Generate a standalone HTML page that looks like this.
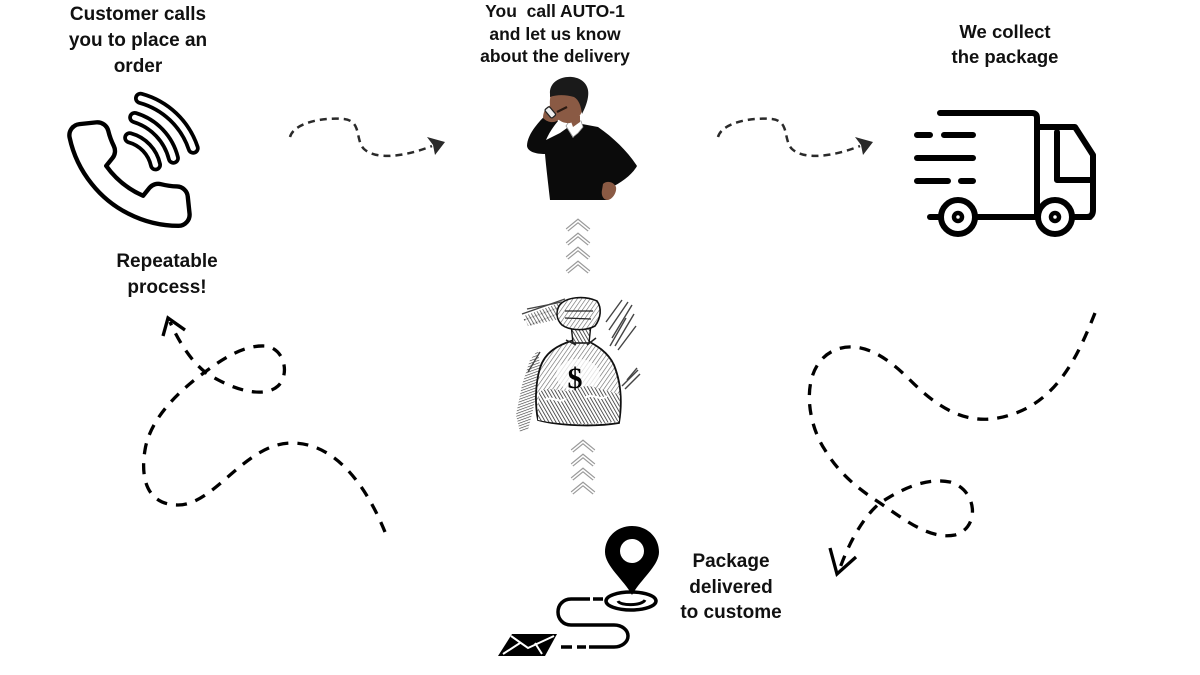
<!DOCTYPE html>
<html>
<head>
<meta charset="utf-8">
<style>
  html,body{margin:0;padding:0;background:#fff;}
  #wrap{position:relative;width:1200px;height:675px;overflow:hidden;background:#fff;}
  .t{position:absolute;font-family:"Liberation Sans",Arial,sans-serif;font-weight:bold;color:#111;text-align:center;white-space:nowrap;}
  svg{position:absolute;left:0;top:0;}
</style>
</head>
<body>
<div id="wrap">
<svg width="1200" height="675" viewBox="0 0 1200 675">
  <defs>
    <pattern id="hatch" width="3.5" height="3.5" patternUnits="userSpaceOnUse" patternTransform="rotate(35)">
      <rect width="3.5" height="3.5" fill="#fff"/>
      <line x1="0" y1="0" x2="0" y2="3.5" stroke="#666" stroke-width="1.2"/>
    </pattern>
    <pattern id="hatch2" width="3" height="3" patternUnits="userSpaceOnUse" patternTransform="rotate(-30)">
      <rect width="3" height="3" fill="#fff"/>
      <line x1="0" y1="0" x2="0" y2="3" stroke="#222" stroke-width="1.5"/>
    </pattern>
    <pattern id="hatch3" width="2.5" height="2.5" patternUnits="userSpaceOnUse" patternTransform="rotate(70)">
      <rect width="2.5" height="2.5" fill="#fff"/>
      <line x1="0" y1="0" x2="0" y2="2.5" stroke="#333" stroke-width="1.2"/>
    </pattern>
  </defs>

  <!-- ===== Phone icon ===== -->
  <g fill="none" stroke="#000" stroke-linejoin="round" stroke-linecap="round">
    <g transform="translate(62,108) scale(5.6) rotate(-6 12 12)">
      <path stroke-width="0.78" d="M22 16.92v3a2 2 0 0 1-2.18 2 19.79 19.79 0 0 1-8.63-3.07 19.5 19.5 0 0 1-6-6 19.79 19.790 0 0 1-3.07-8.67A2 2 0 0 1 4.11 2h3a2 2 0 0 1 2 1.72 12.84 12.84 0 0 0 .7 2.81 2 2 0 0 1-.45 2.11L8.09 9.910a16 16 0 0 0 6 6l1.27-1.27a2 2 0 0 1 2.110-.45 12.84 12.84 0 0 0 2.81.7A2 2 0 0 1 22 16.92z"/>
    </g>
    <g stroke-width="13">
      <path d="M129.7,137.8 A36,36 0 0 1 155.5,164.9"/>
      <path d="M134.7,117.5 A57,57 0 0 1 173.4,158.2"/>
      <path d="M140.5,98.3 A77,77 0 0 1 193.2,148.2"/>
    </g>
    <g stroke="#fff" stroke-width="5.5">
      <path d="M129.7,137.8 A36,36 0 0 1 155.5,164.9"/>
      <path d="M134.7,117.5 A57,57 0 0 1 173.4,158.2"/>
      <path d="M140.5,98.3 A77,77 0 0 1 193.2,148.2"/>
    </g>
  </g>

  <!-- ===== Dashed arrows top ===== -->
  <g fill="none" stroke="#2a2a2a" stroke-width="2.5" stroke-dasharray="7 5">
    <path d="M290,137 C294,123 322,117 344,119 C362,121 355,140 364,149 C376,160 404,157 432,146"/>
    <path d="M718,137 C722,123 750,117 772,119 C790,121 783,140 792,149 C804,160 832,157 860,146"/>
  </g>
  <g fill="#2a2a2a">
    <polygon points="445,142 427,137 433,145 435,155"/>
    <polygon points="873,142 855,137 861,145 863,155"/>
  </g>

  <!-- ===== Man on phone ===== -->
  <g>
    <!-- sweater -->
    <path fill="#0b0b0b" d="M548,113 L558,121 C553,127 549,133 546,140 L560,133 L567,128 L573,138 L582,124 L598,127 C614,138 628,152 637,166 C632,175 621,183 610,188 L608,200 L550,200 C548,182 546,166 545,154 C536,154 528,152 527,146 C527,135 538,122 548,113 Z"/>
    <!-- collar -->
    <path fill="#fff" stroke="#999" stroke-width="0.8" d="M566,126 L570,120 L581,121 L583,127 L578,133 L573,137 Z"/>
    <!-- neck -->
    <path fill="#8a5a44" d="M569,116 L580,116 L580,122 L573,127 Z"/>
    <!-- face -->
    <path fill="#8a5a44" d="M551,92 C552,84 562,79 572,81 C581,83 585,92 584,102 C583,113 578,121 570,123 C561,124 554,117 551,110 C549,104 550,98 551,92 Z"/>
    <!-- hair -->
    <path fill="#1a1a1a" d="M550,94 C549,82 561,76 572,77 C583,78 590,86 588,97 C587,104 584,110 582,114 C581,106 579,100 574,97 C567,95 558,94 550,97 Z"/>
    <!-- hand with phone -->
    <path fill="#8a5a44" d="M543,118 C543,111 547,105 553,105 C559,106 562,112 560,118 C557,123 549,124 543,118 Z"/>
    <rect x="547" y="107" width="6" height="11" rx="1.5" fill="#eee" stroke="#222" stroke-width="1.3" transform="rotate(-40 550 112)"/>
    <path d="M557,112 L567,107" stroke="#2a1a12" stroke-width="2.2"/>
    <!-- hand on hip -->
    <path fill="#8a5a44" d="M603,184 C607,180 614,182 616,187 C617,192 613,199 608,200 C603,200 601,195 602,190 Z"/>
  </g>

  <!-- ===== Chevrons ===== -->
  <g fill="none" stroke-linejoin="miter">
    <g stroke="#9a9a9a" stroke-width="4">
      <polyline points="567,230 578,221 589,230"/>
      <polyline points="567,244 578,235 589,244"/>
      <polyline points="567,258 578,249 589,258"/>
      <polyline points="567,272 578,263 589,272"/>
      <polyline points="572,451 583,442 594,451"/>
      <polyline points="572,465 583,456 594,465"/>
      <polyline points="572,479 583,470 594,479"/>
      <polyline points="572,493 583,484 594,493"/>
    </g>
    <g stroke="#fff" stroke-width="1.6">
      <polyline points="567,230 578,221 589,230"/>
      <polyline points="567,244 578,235 589,244"/>
      <polyline points="567,258 578,249 589,258"/>
      <polyline points="567,272 578,263 589,272"/>
      <polyline points="572,451 583,442 594,451"/>
      <polyline points="572,465 583,456 594,465"/>
      <polyline points="572,479 583,470 594,479"/>
      <polyline points="572,493 583,484 594,493"/>
    </g>
  </g>

  <!-- ===== Money bag ===== -->
  <g>
    <!-- left shading -->
    <path fill="url(#hatch3)" d="M538,350 L530,360 L522,385 L516,415 L520,432 L528,430 L533,410 L537,390 L540,365 Z"/>
    <!-- sleeve / arm lines -->
    <g stroke="#444" stroke-width="1.4" fill="none">
      <path d="M522,314 L565,299"/><path d="M524,320 L563,306"/><path d="M527,309 L562,302"/><path d="M530,325 L562,312"/>
      <path d="M606,322 L622,300"/><path d="M609,330 L628,302"/><path d="M612,338 L632,305"/><path d="M615,346 L634,314"/><path d="M610,346 L626,318"/><path d="M618,350 L636,326"/>
      <path d="M622,386 L638,370"/><path d="M625,389 L640,374"/><path d="M627,380 L637,368"/>
      <path d="M540,352 L528,372"/>
    </g>
    <!-- sleeve fill -->
    <path fill="url(#hatch2)" opacity="0.8" d="M524,316 L562,302 L564,318 L528,326 Z"/>
    <!-- bag body -->
    <path fill="url(#hatch)" stroke="#111" stroke-width="1.8" d="M574,340 C558,345 545,352 540,368 C535,385 535,405 538,420 C560,426 595,427 619,423 C622,405 622,385 614,365 C608,352 596,345 586,340 Z"/>
    <!-- lighter area around $ -->
    <ellipse cx="578" cy="375" rx="22" ry="16" fill="#fff" opacity="0.75"/>
    <!-- lower darker texture -->
    <path fill="url(#hatch2)" d="M539,392 C552,384 566,396 578,388 C590,382 604,392 620,394 L619,421 C595,425 560,425 538,420 Z"/>
    <path d="M545,400 C552,395 560,405 566,398 M585,398 C592,392 600,402 607,396" stroke="#fff" stroke-width="2" fill="none"/>
    <!-- neck -->
    <path fill="url(#hatch2)" stroke="#111" stroke-width="1.4" d="M571,324 L591,324 L589,343 L573,343 Z"/>
    <path d="M566,340 L576,345 M596,338 L587,345" stroke="#222" stroke-width="1.5"/>
    <!-- hand -->
    <path fill="url(#hatch)" stroke="#111" stroke-width="1.6" d="M559,306 C565,297 584,295 597,301 C602,308 601,318 595,326 C586,331 570,331 562,325 C556,319 556,312 559,306 Z"/>
    <path d="M565,311 L593,311 M565,318 L591,319" stroke="#222" stroke-width="1.2"/>
    <text x="575" y="388" font-family="Liberation Serif, serif" font-weight="bold" font-size="30" text-anchor="middle" fill="#000">$</text>
  </g>

  <!-- ===== Truck ===== -->
  <g fill="none" stroke="#000" stroke-width="6" stroke-linecap="round" stroke-linejoin="round">
    <path d="M940,113 L1032,113 Q1037,113 1037,118 L1037,215"/>
    <path d="M1037,127 L1075,127 L1093,155 L1093,210 Q1093,217 1087,217"/>
    <path d="M1057,132 L1057,180 L1093,180"/>
    <path d="M930,217 L1090,217"/>
    <path d="M917,135 L930,135 M944,135 L973,135"/>
    <path d="M917,158 L973,158"/>
    <path d="M917,181 L948,181 M961,181 L973,181"/>
    <circle cx="958" cy="217" r="17" fill="#fff"/>
    <circle cx="1055" cy="217" r="17" fill="#fff"/>
    <circle cx="958" cy="217" r="4" stroke-width="4.5"/>
    <circle cx="1055" cy="217" r="4" stroke-width="4.5"/>
  </g>

  <!-- ===== Left loop dashed ===== -->
  <g fill="none" stroke="#000" stroke-width="3.3" stroke-linecap="butt">
    <path stroke-dasharray="11 9" d="M385,532 C370,495 340,443 292,443 C245,443 215,505 178,505 C148,505 140,480 145,450 C150,418 180,390 205,372 C225,357 245,345 265,346 C285,348 290,375 278,386 C265,398 235,392 205,372 C190,360 178,340 170,322"/>
    <path d="M163,336 L168,318 L185,330" stroke-linejoin="miter"/>
  </g>

  <!-- ===== Right loop dashed ===== -->
  <g fill="none" stroke="#000" stroke-width="3.3">
    <path stroke-dasharray="11 9" d="M1095,313 C1080,350 1060,400 1010,415 C970,428 940,410 910,380 C885,355 860,340 835,350 C800,365 805,420 825,450 C840,475 860,490 880,503 C905,520 930,540 955,535 C980,528 978,490 950,482 C925,477 900,490 880,503 C865,515 850,540 840,568"/>
    <path d="M830,548 L837,574 L856,557" stroke-linejoin="miter"/>
  </g>

  <!-- ===== Location pin & route ===== -->
  <g>
    <path fill="#000" d="M632,595 C624,580 605,566 605,552 C605,537 617,526 632,526 C647,526 659,537 659,552 C659,566 640,580 632,595 Z"/>
    <circle cx="632" cy="551" r="12" fill="#fff"/>
    <ellipse cx="631" cy="601" rx="25" ry="9" fill="none" stroke="#000" stroke-width="3.5"/>
    <path d="M618,601 C620,606 642,606 645,600" fill="none" stroke="#000" stroke-width="3"/>
    <g fill="none" stroke="#000" stroke-width="3.5" stroke-linecap="butt">
      <path d="M593,599 L603,599 M581,599 L590,599"/>
      <path d="M581,599 L571,599 C563,599 558,605 558,612 C558,619 563,625 571,625 L614,625 C622,625 628,630 628,636 C628,642 622,647 614,647 L589,647"/>
      <path d="M586,647 L577,647 M572,647 L561,647"/>
    </g>
    <path fill="#000" d="M512,634 L557,634 L545,656 L498,656 Z"/>
    <path d="M511,636 L528,648 L554,636 M503,654 L520,643 M542,654 L535,643" fill="none" stroke="#fff" stroke-width="2"/>
  </g>
</svg>

<div class="t" style="left:38px;top:2px;width:200px;font-size:19px;line-height:26px;">Customer calls<br>you to place an<br>order</div>
<div class="t" style="left:455px;top:0px;width:200px;font-size:17.5px;line-height:22.5px;">You&nbsp; call AUTO-1<br>and let us know<br>about the delivery</div>
<div class="t" style="left:905px;top:19px;width:200px;font-size:18.5px;line-height:25px;">We collect<br>the package</div>
<div class="t" style="left:67px;top:249px;width:200px;font-size:19px;line-height:26px;">Repeatable<br>process!</div>
<div class="t" style="left:631px;top:549px;width:200px;font-size:19px;line-height:25.5px;">Package<br>delivered<br>to custome</div>
</div>
</body>
</html>
